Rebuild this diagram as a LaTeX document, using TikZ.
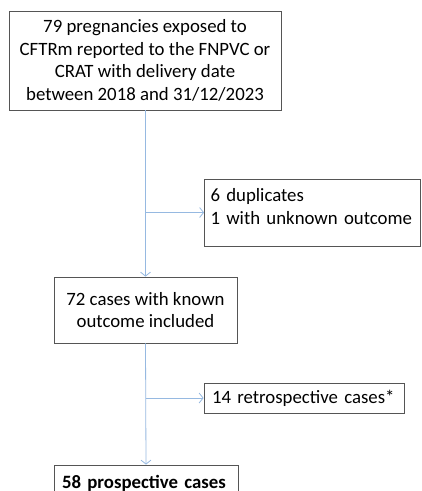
\documentclass[tikz,border=0pt]{standalone}
\usepackage{fontspec}
\setmainfont{Carlito}
\usetikzlibrary{
    arrows.meta,
    positioning
}

\definecolor{boxgray}{RGB}{85,85,85}
\definecolor{flowblue}{RGB}{150,185,225}

\begin{document}
\begin{tikzpicture}[x=1pt,y=-1pt,
    box/.style={draw=boxgray, line width=0.8pt, inner xsep=8pt, inner ysep=0pt,
        font=\fontsize{18.8}{22.7}\selectfont},
    flow/.style={draw=flowblue, line width=0.8pt,
        -{Straight Barb[length=4pt,width=10pt,line width=0.8pt]}}]

\useasboundingbox (0,0) rectangle (422,491);

% boxes
\node[box, align=center, minimum width=272pt, minimum height=99pt]
    (pregn) at (145,60.5)
    {79 pregnancies exposed to\\CFTRm reported to the FNPVC or\\CRAT with delivery date\\between 2018 and 31/12/2023};

\node[box, align=left, inner xsep=6pt, text width=204pt, minimum height=67pt]
    (dupl) at (312.5,212.5)
    {6 duplicates\\1 with unknown outcome\\[-10pt]\mbox{}};

\node[box, align=center, minimum width=183pt, minimum height=66pt]
    (known) at (145.5,310)
    {72 cases with known\\outcome included};

\node[box, align=left, text width=184pt, minimum height=30pt]
    (retro) at (304,398)
    {14 retrospective cases*};

\node[box, align=left, text width=168pt, minimum height=36pt]
    (prosp) at (146,483)
    {\bfseries 58 prospective cases};

% split points
\coordinate (split1) at (known.north |- dupl.west);
\coordinate (split2) at (known.south |- retro.west);

% arrows
\draw[flow] (pregn.south -| known.north) -- (known.north);
\draw[flow] (split1) -- (dupl.west);
\draw[flow] (known.south) -- (prosp.north);
\draw[flow] (split2) -- (retro.west);

\end{tikzpicture}
\end{document}
